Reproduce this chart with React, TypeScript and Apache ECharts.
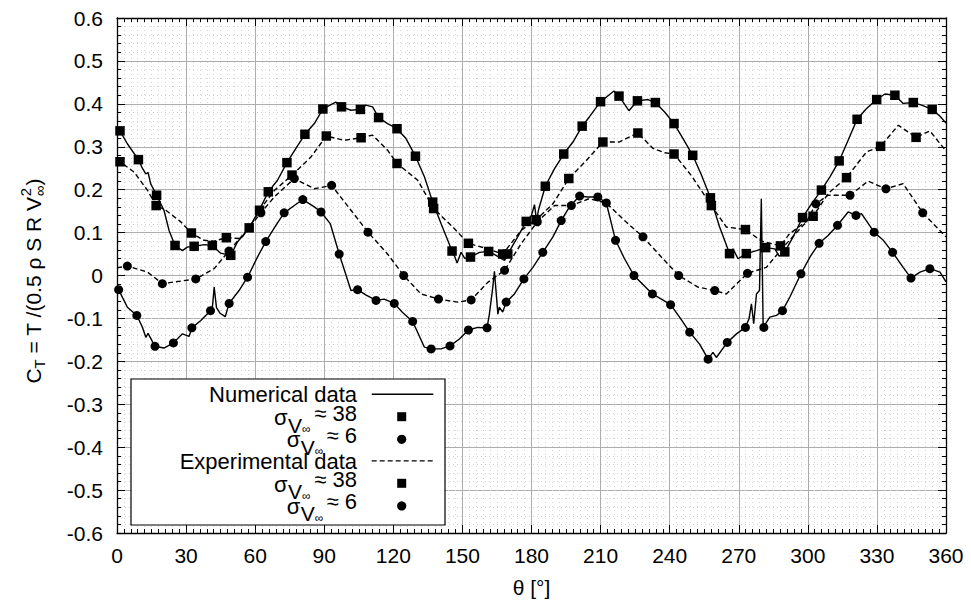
import React, { useEffect, useRef } from "react";
import * as echarts from "echarts";

const FONT = '"Liberation Sans", Arial, Helvetica, sans-serif';

// Numerical data, sigma ≈ 38 (solid line) and its markers
const numLine38: number[][] = [
  [0, 0.345], [1.3, 0.337], [4.5, 0.307], [9.3, 0.27], [11, 0.25], [12.5, 0.237], [13.5, 0.24], [14.6, 0.214], [17.2, 0.187], [20.4, 0.152], [22.6, 0.105], [25.2, 0.07], [28.4, 0.058], [30.5, 0.066], [33.5, 0.068], [37.8, 0.072], [41.4, 0.07], [45, 0.052], [49.4, 0.047], [52.3, 0.078], [57.4, 0.111], [62.5, 0.16], [65.7, 0.195], [69.7, 0.222], [73.8, 0.263], [77.7, 0.296], [81.6, 0.329], [85.7, 0.354], [89.4, 0.388], [95, 0.404], [97.5, 0.393], [101.6, 0.385], [105.7, 0.387], [108, 0.397], [111, 0.393], [113.6, 0.368], [117.5, 0.354], [121.6, 0.342], [125.5, 0.319], [129.6, 0.278], [133.5, 0.23], [137.1, 0.171], [140.7, 0.121], [145.5, 0.057], [146.6, 0.045], [147.7, 0.029], [149.4, 0.054], [151, 0.04], [153.5, 0.043], [157.4, 0.054], [161.4, 0.056], [164.6, 0.047], [168.3, 0.035], [169.7, 0.05], [174, 0.09], [177.7, 0.126], [180, 0.14], [181.3, 0.165], [182.2, 0.128], [183, 0.152], [186, 0.208], [190, 0.249], [194, 0.283], [198, 0.311], [202, 0.348], [205.2, 0.37], [210, 0.405], [215.8, 0.43], [218, 0.418], [222.3, 0.384], [226, 0.407], [230.6, 0.41], [233.8, 0.403], [237.8, 0.381], [241.9, 0.354], [245.8, 0.319], [250, 0.28], [253.8, 0.234], [257.7, 0.181], [261.7, 0.113], [266, 0.051], [267.5, 0.062], [269.7, 0.039], [273.3, 0.051], [277.7, 0.058], [281.7, 0.065], [285.7, 0.062], [287.5, 0.045], [290, 0.055], [293.6, 0.09], [297.7, 0.135], [301.6, 0.167], [305.9, 0.199], [309.6, 0.23], [313.6, 0.267], [317.5, 0.315], [321.4, 0.364], [325.5, 0.389], [329.9, 0.41], [333.5, 0.423], [337.8, 0.42], [341.4, 0.401], [345.8, 0.403], [349.4, 0.397], [354, 0.387], [357.4, 0.371], [360, 0.355],
];
const numMark38: number[][] = [
  [1.3, 0.337], [9.3, 0.27], [17.2, 0.187], [25.2, 0.07], [33.5, 0.068], [41.4, 0.07], [49.4, 0.047], [57.4, 0.111], [65.7, 0.195], [73.8, 0.263], [81.6, 0.329], [89.4, 0.388], [97.5, 0.393], [105.7, 0.387], [113.6, 0.368], [121.6, 0.342], [129.6, 0.278], [137.1, 0.171], [145.5, 0.057], [153.5, 0.043], [161.4, 0.056], [169.7, 0.05], [177.7, 0.126], [186, 0.208], [194, 0.283], [202, 0.348], [210, 0.405], [218, 0.418], [226, 0.407], [233.8, 0.403], [241.9, 0.354], [250, 0.28], [257.7, 0.181], [266, 0.051], [273.3, 0.051], [281.7, 0.065], [290, 0.055], [297.7, 0.135], [305.9, 0.199], [313.6, 0.267], [321.4, 0.364], [329.9, 0.41], [337.8, 0.42], [345.8, 0.403], [354, 0.387],
];

// Numerical data, sigma ≈ 6 (solid line) and its markers
const numLine6: number[][] = [
  [0, -0.027], [0.7, -0.033], [4.5, -0.074], [8.6, -0.093], [11, -0.12], [12.5, -0.144], [13.5, -0.135], [16.5, -0.165], [20.4, -0.169], [24.5, -0.157], [28.4, -0.136], [31.3, -0.142], [32.5, -0.122], [36.4, -0.105], [40.6, -0.082], [41.5, -0.07], [42.2, -0.027], [43.2, -0.075], [44.8, -0.088], [47, -0.096], [48.7, -0.065], [53, -0.035], [56.7, -0.004], [61, 0.043], [64.6, 0.079], [69, 0.117], [72.6, 0.146], [77, 0.163], [80.7, 0.177], [85.7, 0.16], [88.6, 0.148], [92.6, 0.121], [96.5, 0.05], [101.6, -0.035], [104.5, -0.033], [108, -0.045], [112.5, -0.058], [116, -0.055], [120.4, -0.065], [124, -0.086], [128.4, -0.107], [133.5, -0.167], [136.4, -0.171], [140.7, -0.171], [144.6, -0.164], [148.7, -0.148], [152.6, -0.127], [156.7, -0.121], [160.7, -0.122], [161.7, -0.09], [163.2, -0.027], [163.9, 0.01], [165.4, -0.09], [166, -0.074], [167.5, -0.085], [169, -0.062], [172.6, -0.043], [176.7, -0.008], [180.6, 0.019], [184.9, 0.054], [189.3, 0.09], [192.9, 0.128], [196.5, 0.16], [200.9, 0.185], [204.5, 0.183], [208.8, 0.183], [212.5, 0.169], [216.5, 0.082], [220.4, 0.039], [224.5, 0.0], [228.4, -0.021], [232.5, -0.043], [236.4, -0.055], [240.4, -0.068], [244.3, -0.097], [248.7, -0.132], [253, -0.16], [256.7, -0.195], [258.8, -0.179], [260.3, -0.191], [265, -0.156], [269, -0.136], [272.9, -0.121], [274.5, -0.1], [275.5, -0.066], [276.5, -0.112], [277.7, -0.043], [279, -0.035], [279.8, 0.179], [280.6, -0.121], [283.5, -0.097], [286.4, -0.093], [289, -0.082], [292.2, -0.05], [297, 0.004], [300.9, 0.043], [304.9, 0.075], [308.8, 0.093], [312.9, 0.117], [317.5, 0.148], [320.9, 0.14], [323.3, 0.144], [328.8, 0.101], [332.8, 0.082], [336.8, 0.054], [341.4, 0.019], [344.8, -0.006], [348.7, 0.008], [353, 0.016], [357.4, 0.008], [360, -0.015],
];
const numMark6: number[][] = [
  [0.7, -0.033], [8.6, -0.093], [16.5, -0.165], [24.5, -0.157], [32.5, -0.122], [40.6, -0.082], [48.7, -0.065], [56.7, -0.004], [64.6, 0.079], [72.6, 0.146], [80.7, 0.177], [88.6, 0.148], [96.5, 0.05], [104.5, -0.033], [112.5, -0.058], [120.4, -0.065], [128.4, -0.107], [136.4, -0.171], [144.6, -0.164], [152.6, -0.127], [160.7, -0.122], [169, -0.062], [176.7, -0.008], [184.9, 0.054], [192.9, 0.128], [200.9, 0.185], [208.8, 0.183], [216.5, 0.082], [224.5, 0.0], [232.5, -0.043], [240.4, -0.068], [248.7, -0.132], [256.7, -0.195], [265, -0.156], [272.9, -0.121], [280.9, -0.121], [289, -0.082], [297, 0.004], [304.9, 0.075], [312.9, 0.117], [320.9, 0.14], [328.8, 0.101], [336.8, 0.054], [344.8, -0.006], [353, 0.016],
];

// Experimental data, sigma ≈ 38 (dashed line) and its markers
const expLine38: number[][] = [
  [0, 0.27], [1.3, 0.265], [7.4, 0.241], [13.2, 0.199], [17, 0.163], [21.2, 0.152], [27.7, 0.125], [32.3, 0.099], [37.8, 0.082], [42, 0.08], [47.5, 0.088], [53.8, 0.086], [57.4, 0.11], [61.9, 0.152], [68.3, 0.198], [76, 0.234], [84.2, 0.276], [90.9, 0.325], [98.7, 0.315], [106, 0.321], [111, 0.327], [117.5, 0.292], [121.6, 0.261], [130.6, 0.222], [137.5, 0.156], [145.8, 0.113], [152.6, 0.075], [161, 0.062], [167.5, 0.05], [175.5, 0.105], [182, 0.13], [189.3, 0.167], [196.2, 0.226], [203.8, 0.268], [211, 0.311], [218, 0.311], [226.2, 0.332], [232.8, 0.296], [237.8, 0.286], [241.9, 0.283], [249.4, 0.233], [258.1, 0.163], [264.6, 0.113], [272.9, 0.107], [280, 0.08], [288.1, 0.069], [292, 0.097], [302.3, 0.138], [308.8, 0.191], [316.8, 0.228], [325.5, 0.288], [331.6, 0.301], [339.3, 0.35], [347, 0.322], [353, 0.337], [360, 0.29],
];
const expMark38: number[][] = [
  [1.3, 0.265], [17, 0.163], [32.3, 0.099], [47.5, 0.088], [61.9, 0.152], [76, 0.234], [90.9, 0.325], [106, 0.321], [121.6, 0.261], [137.5, 0.156], [152.6, 0.075], [167.5, 0.05], [182, 0.13], [196.2, 0.226], [211, 0.311], [226.2, 0.332], [241.9, 0.283], [258.1, 0.163], [272.9, 0.107], [288.1, 0.069], [302.3, 0.138], [316.8, 0.228], [331.6, 0.301], [347, 0.322],
];

// Experimental data, sigma ≈ 6 (dashed line) and its markers
const expLine6: number[][] = [
  [0, 0.018], [4.5, 0.022], [13.2, 0.008], [19.7, -0.019], [27.7, -0.013], [34.2, -0.008], [42.2, 0.016], [48.6, 0.057], [56.7, 0.107], [62.5, 0.146], [68.3, 0.183], [77, 0.226], [85.7, 0.202], [93.2, 0.21], [101.6, 0.152], [109, 0.101], [117.5, 0.05], [124.5, 0.0], [132, -0.043], [139.6, -0.055], [148, -0.062], [153.8, -0.057], [161, -0.016], [168.3, 0.012], [175.5, 0.074], [182.5, 0.125], [190, 0.163], [197.3, 0.163], [205, 0.179], [212.5, 0.169], [220.4, 0.128], [228.4, 0.09], [236.4, 0.043], [243.9, 0.0], [252.3, -0.027], [259.6, -0.035], [264.6, -0.043], [273.8, 0.005], [282, 0.019], [289.3, 0.066], [299.4, 0.125], [303.5, 0.167], [308.8, 0.187], [318.3, 0.187], [326.2, 0.22], [333.9, 0.202], [341.4, 0.214], [349.9, 0.146], [360, 0.09],
];
const expMark6: number[][] = [
  [4.5, 0.022], [19.7, -0.019], [34.2, -0.008], [48.6, 0.057], [62.5, 0.146], [77, 0.226], [93.2, 0.21], [109, 0.101], [124.5, 0.0], [139.6, -0.055], [153.8, -0.057], [168.3, 0.012], [182.5, 0.125], [197.3, 0.163], [212.5, 0.169], [228.4, 0.09], [243.9, 0.0], [259.6, -0.035], [273.8, 0.005], [303.5, 0.167], [318.3, 0.187], [333.9, 0.202], [349.9, 0.146],
];

const legendHeads = ["Numerical data", "Experimental data"];
const sigmaLabels = ["≈ 38", "≈ 6"];
const xAxisTitle = "θ [°]";

function measure(text: string, size: number): number {
  const ctx = document.createElement("canvas").getContext("2d");
  if (!ctx) return text.length * size * 0.5;
  ctx.font = `${size}px "Liberation Sans"`;
  return ctx.measureText(text).width;
}

function txt(text: string, x: number, y: number, size: number, align: string = "left", lh?: number) {
  return {
    type: "text",
    x,
    y,
    z: 110,
    style: {
      text,
      fontSize: size,
      fontFamily: FONT,
      fill: "#000",
      textAlign: align,
      align,
      textVerticalAlign: "middle",
      verticalAlign: "middle",
      lineHeight: lh ?? size,
    },
  };
}

function buildYTitle() {
  const pieces = [
    { t: "C", s: 21, dy: 0, stack: false },
    { t: "T", s: 15, dy: 6, stack: false },
    { t: " = T /(0.5 ρ S R V", s: 21, dy: 0, stack: false },
    { t: "2", s: 15, dy: -8, stack: true },
    { t: "∞", s: 15, dy: 6, stack: false },
    { t: ")", s: 21, dy: 0, stack: false },
  ];
  const children: any[] = [];
  let cx = 0;
  let pendingW = 0;
  pieces.forEach((p) => {
    const w = measure(p.t, p.s);
    children.push(txt(p.t, cx, p.dy, p.s, "left", p.s === 15 ? 10 : 17));
    if (p.stack) {
      pendingW = w;
    } else {
      cx += Math.max(w, pendingW);
      pendingW = 0;
    }
  });
  const total = cx;
  const centerY = 281;
  return {
    type: "group",
    x: 33,
    y: centerY + total / 2,
    rotation: Math.PI / 2,
    children,
  };
}

function sigmaRow(sx: number, y: number, label: string) {
  // y: vertical center of the "≈ n" text
  return [
    txt("σ", sx, y + 4.5, 22, "left", 12),
    txt("V", sx + 14, y + 12, 21, "left", 14),
    txt("∞", sx + 28, y + 16, 12, "left", 6),
    txt(label, 357, y, 22, "right", 16),
  ];
}

function buildLegend() {
  const els: any[] = [];
  els.push({
    type: "rect",
    z: 100,
    shape: { x: 131, y: 379, width: 314, height: 146 },
    style: { fill: "#fff", stroke: "#000", lineWidth: 1.2 },
  });
  const blockOffsets = [0, 66.6];
  blockOffsets.forEach((off, bi) => {
    els.push(txt(legendHeads[bi], 357, 394.5 + off, 22, "right", 17));
    els.push({
      type: "line",
      z: 110,
      shape: { x1: 371.7, y1: 394.3 + off, x2: 433.3, y2: 394.3 + off },
      style: { stroke: "#000", lineWidth: 1.4, lineDash: bi === 1 ? [5, 3] : null },
    });
    sigmaRow(274, 413 + off, sigmaLabels[0]).forEach((e) => els.push(e));
    sigmaRow(286.7, 435 + off, sigmaLabels[1]).forEach((e) => els.push(e));
    els.push({
      type: "rect",
      z: 110,
      shape: { x: 397.2, y: 412.2 + off, width: 9, height: 9 },
      style: { fill: "#000" },
    });
    els.push({
      type: "circle",
      z: 110,
      shape: { cx: 401.7, cy: 439.3 + off, r: 4.6 },
      style: { fill: "#000" },
    });
  });
  return els;
}

const tickColor = "#000";
const majorGrid = { show: true, lineStyle: { color: "#adadad", width: 1 } };
const minorGrid = { show: true, lineStyle: { color: "#d4d4d4", width: 1, type: [1, 3] } };

function yFmt(v: number) {
  const r = Math.round(v * 10) / 10;
  if (Math.abs(r) < 1e-9) return "0";
  return r.toFixed(1);
}

export default function App() {
  const ref = useRef<HTMLDivElement>(null);
  useEffect(() => {
    if (!ref.current) return;
    const chart = echarts.init(ref.current, undefined, { renderer: "svg" });
    const axisCommonX = {
      type: "value",
      min: 0,
      max: 360,
      interval: 30,
      axisLine: { show: true, onZero: false, lineStyle: { color: "#000", width: 1.3 } },
      axisTick: { show: true, inside: true, length: 8, lineStyle: { color: tickColor } },
      minorTick: { show: true, splitNumber: 10, length: 4, lineStyle: { color: tickColor } },
    };
    const axisCommonY = {
      type: "value",
      min: -0.6,
      max: 0.6,
      interval: 0.1,
      axisLine: { show: true, onZero: false, lineStyle: { color: "#000", width: 1.3 } },
      axisTick: { show: true, inside: true, length: 8, lineStyle: { color: tickColor } },
      minorTick: { show: true, splitNumber: 5, length: 4, lineStyle: { color: tickColor } },
    };
    const lineBase = {
      type: "line",
      showSymbol: false,
      symbol: "none",
      silent: true,
      animation: false,
      z: 3,
    };
    const markBase = {
      type: "scatter",
      silent: true,
      animation: false,
      z: 4,
      itemStyle: { color: "#000", opacity: 1 },
    };
    chart.setOption({
      animation: false,
      backgroundColor: "#fff",
      grid: { left: 117, right: 25, top: 18, bottom: 75, containLabel: false },
      xAxis: [
        {
          ...axisCommonX,
          position: "bottom",
          splitLine: majorGrid,
          minorSplitLine: minorGrid,
          axisLabel: { show: true, fontSize: 21, fontFamily: FONT, color: "#000", margin: 12 },
          name: xAxisTitle,
          nameLocation: "middle",
          nameGap: 44,
          nameTextStyle: { fontSize: 21, fontFamily: FONT, color: "#000" },
        },
        {
          ...axisCommonX,
          position: "top",
          splitLine: { show: false },
          minorSplitLine: { show: false },
          axisLabel: { show: false },
        },
      ],
      yAxis: [
        {
          ...axisCommonY,
          position: "left",
          splitLine: majorGrid,
          minorSplitLine: minorGrid,
          axisLabel: { show: true, fontSize: 21, fontFamily: FONT, color: "#000", margin: 14, formatter: yFmt },
        },
        {
          ...axisCommonY,
          position: "right",
          splitLine: { show: false },
          minorSplitLine: { show: false },
          axisLabel: { show: false },
        },
      ],
      series: [
        { ...lineBase, name: "num38", data: numLine38, lineStyle: { color: "#000", width: 1.4 } },
        { ...lineBase, name: "num6", data: numLine6, lineStyle: { color: "#000", width: 1.4 } },
        { ...lineBase, name: "exp38", data: expLine38, lineStyle: { color: "#000", width: 1.4, type: [5, 3] } },
        { ...lineBase, name: "exp6", data: expLine6, lineStyle: { color: "#000", width: 1.4, type: [5, 3] } },
        { ...markBase, name: "numM38", data: numMark38, symbol: "rect", symbolSize: 9.5 },
        { ...markBase, name: "numM6", data: numMark6, symbol: "circle", symbolSize: 9 },
        { ...markBase, name: "expM38", data: expMark38, symbol: "rect", symbolSize: 9.5 },
        { ...markBase, name: "expM6", data: expMark6, symbol: "circle", symbolSize: 9 },
      ],
      graphic: { elements: [buildYTitle(), ...buildLegend()] },
    });
    return () => chart.dispose();
  }, []);
  return (
    <div
      ref={ref}
      style={{ position: "fixed", left: 0, top: 0, width: 971, height: 608, background: "#fff" }}
    />
  );
}
